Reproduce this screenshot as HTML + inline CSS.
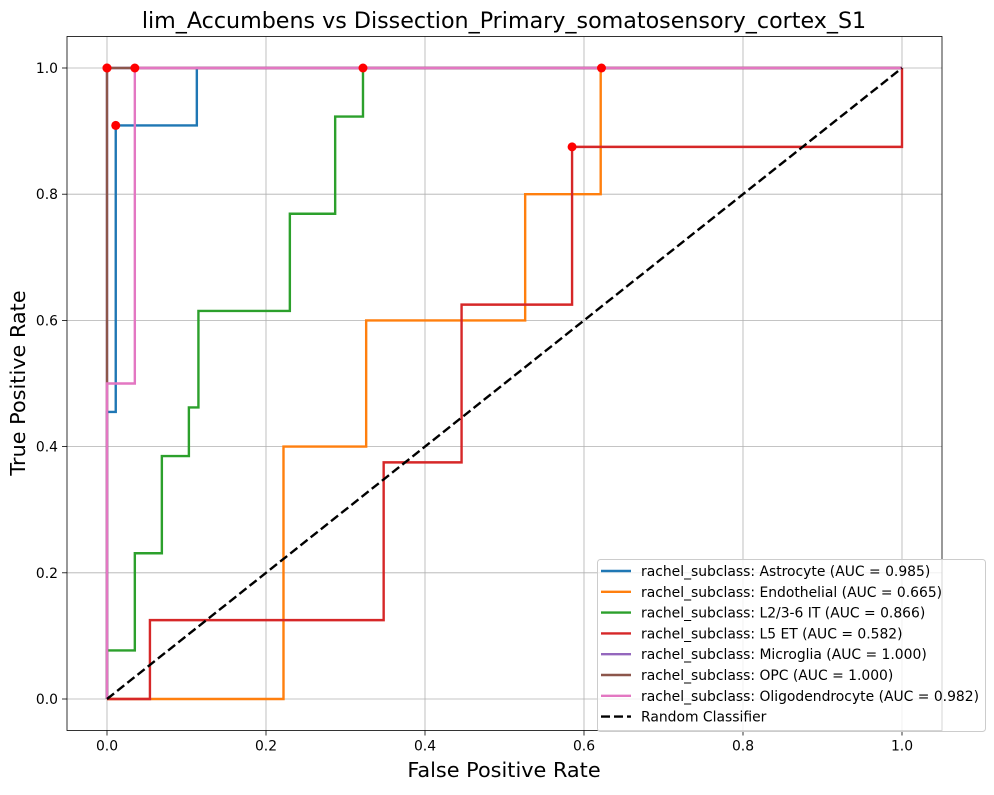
<!DOCTYPE html>
<html><head><meta charset="utf-8"><style>
body{margin:0;background:#fff}
svg{font-family:"DejaVu Sans","Liberation Sans",sans-serif}
</style></head><body>
<svg id="chart" width="994" height="790" xmlns="http://www.w3.org/2000/svg"></svg>
<script>
const xTicks=[0,0.2,0.4,0.6,0.8,1.0];
const yTicks=[0,0.2,0.4,0.6,0.8,1.0];
const seriesNames=["Astrocyte","Endothelial","L2/3-6 IT","L5 ET","Microglia","OPC","Oligodendrocyte"];
const aucValues=["0.985","0.665","0.866","0.582","1.000","1.000","0.982"];
const seriesColors=["#1f77b4","#ff7f0e","#2ca02c","#d62728","#9467bd","#8c564b","#e377c2"];
const astroX=[0,0,0.011,0.011,0.113,0.113,1];
const astroY=[0,0.455,0.455,0.909,0.909,1,1];
const endoX=[0,0.222,0.222,0.326,0.326,0.526,0.526,0.621,0.621,1];
const endoY=[0,0,0.4,0.4,0.6,0.6,0.8,0.8,1,1];
const l23X=[0,0,0.035,0.035,0.069,0.069,0.103,0.103,0.115,0.115,0.23,0.23,0.287,0.287,0.322,0.322,1];
const l23Y=[0,0.077,0.077,0.231,0.231,0.385,0.385,0.462,0.462,0.615,0.615,0.769,0.769,0.923,0.923,1,1];
const l5X=[0,0.054,0.054,0.348,0.348,0.446,0.446,0.585,0.585,1,1];
const l5Y=[0,0,0.125,0.125,0.375,0.375,0.625,0.625,0.875,0.875,1];
const microX=[0,0,1];
const microY=[0,1,1];
const opcX=[0,0,1];
const opcY=[0,1,1];
const oligoX=[0,0,0.035,0.035,1];
const oligoY=[0,0.5,0.5,1,1];
const optX=[0.011,0.622,0.322,0.585,0,0,0.035];
const optY=[0.909,1,1,0.875,1,1,1];

const NS="http://www.w3.org/2000/svg";
const svg=document.getElementById('chart');
const L=67,R=942,T=36.5,B=730.5;
const sx=v=>107+v*795;
const sy=v=>699-v*631;
function mk(tag,attrs,parent){const e=document.createElementNS(NS,tag);for(const k in attrs)e.setAttribute(k,attrs[k]);(parent||svg).appendChild(e);return e;}

const title=mk('text',{x:504,y:28,'text-anchor':'middle','font-size':22.2,fill:'#000'});


title.textContent="lim_Accumbens vs Dissection_Primary_somatosensory_cortex_S1";

xTicks.forEach(t=>{
  const g=mk('line',{x1:sx(t),x2:sx(t),y1:T,y2:B,stroke:'#b0b0b0','stroke-width':0.8});
  
  
  mk('line',{x1:sx(t),x2:sx(t),y1:B,y2:B+5,stroke:'#000','stroke-width':0.8});
  const tx=mk('text',{x:sx(t),y:B+20,'text-anchor':'middle','font-size':13.9});
  
  
  tx.textContent=t.toFixed(1);
});
yTicks.forEach(t=>{
  const g=mk('line',{x1:L,x2:R,y1:sy(t),y2:sy(t),stroke:'#b0b0b0','stroke-width':0.8});
  
  
  mk('line',{x1:L-5,x2:L,y1:sy(t),y2:sy(t),stroke:'#000','stroke-width':0.8});
  const tx=mk('text',{x:L-9,y:sy(t)+5,'text-anchor':'end','font-size':13.9});
  
  
  tx.textContent=t.toFixed(1);
});

const seriesX=[astroX,endoX,l23X,l5X,microX,opcX,oligoX];
const seriesY=[astroY,endoY,l23Y,l5Y,microY,opcY,oligoY];
seriesX.forEach((xs,i)=>{
  const pts=xs.map((x,j)=>sx(x)+','+sy(seriesY[i][j])).join(' ');
  const p=mk('polyline',{points:pts,fill:'none',stroke:seriesColors[i],'stroke-width':2.4,'stroke-linejoin':'miter'});
  
  
});
const diag=mk('line',{x1:sx(0),y1:sy(0),x2:sx(1),y2:sy(1),stroke:'#000','stroke-width':2.4,'stroke-dasharray':'9,4'});


optX.forEach((x,i)=>{
  const c=mk('circle',{cx:sx(x),cy:sy(optY[i]),r:4.5,fill:'#ff0000'});
  
  
});

const frame=mk('rect',{x:L,y:T,width:R-L,height:B-T,fill:'none',stroke:'#000','stroke-width':0.8});



const xl=mk('text',{x:504,y:777,'text-anchor':'middle','font-size':20.8});


xl.textContent="False Positive Rate";
const yl=mk('text',{x:0,y:0,'text-anchor':'middle','font-size':20.8,transform:'translate(25,383) rotate(-90)'});


yl.textContent="True Positive Rate";

const lg=mk('g',{});


mk('rect',{x:597.5,y:559.5,width:388,height:172,rx:3,fill:'#fff','fill-opacity':0.8,stroke:'#ccc','stroke-width':1},lg);
const labels=seriesNames.map((n,i)=>"rachel_subclass: "+n+" (AUC = "+aucValues[i]+")").concat(["Random Classifier"]);
labels.forEach((lab,i)=>{
  const y=571+i*20.8;
  const col=i<7?seriesColors[i]:'#000';
  const ln=mk('line',{x1:601,x2:631,y1:y,y2:y,stroke:col,'stroke-width':2.4,'stroke-dasharray':i<7?'none':'9,4'},lg);
  
  
  const t=mk('text',{x:641,y:y+5,'font-size':13.9},lg);
  
  
  t.textContent=lab;
});
</script>
</body></html>
